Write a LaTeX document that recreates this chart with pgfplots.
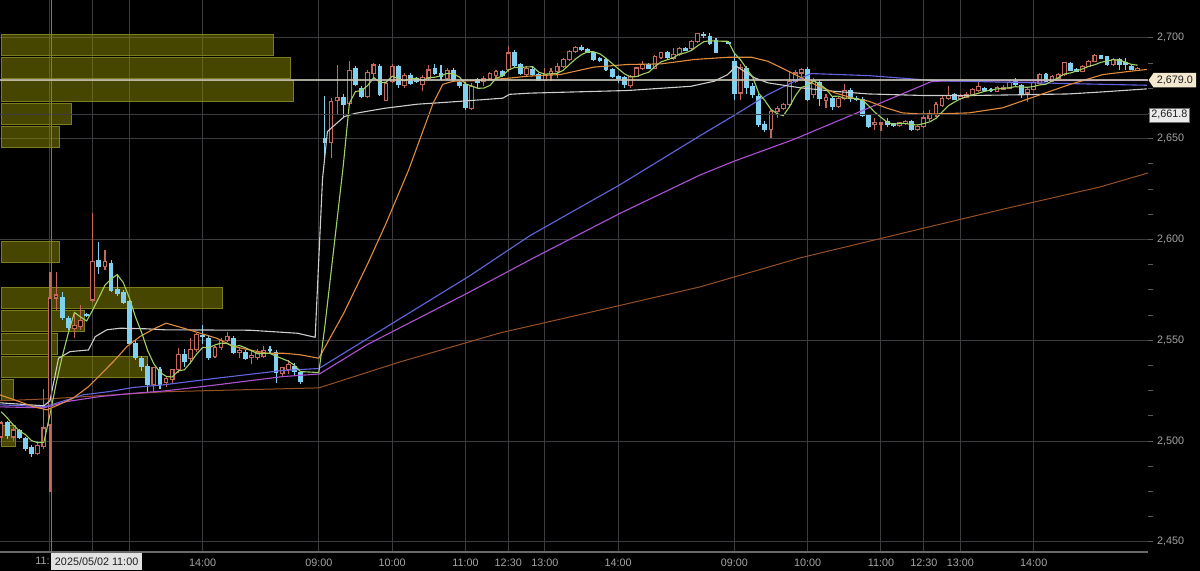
\documentclass[border=0pt]{standalone}
\usepackage{pgfplots}
\pgfplotsset{compat=1.18}
\usepackage{pgfplotstable}
\usepackage{fontspec}
\setmainfont{Liberation Sans}
\usetikzlibrary{shapes.symbols}

\definecolor{upc}{RGB}{196,104,92}
\definecolor{dnc}{RGB}{128,208,240}
\definecolor{ma5}{RGB}{160,210,100}
\definecolor{ma25}{RGB}{225,140,60}
\definecolor{mawh}{RGB}{205,205,205}
\definecolor{mabl}{RGB}{100,100,225}
\definecolor{mamg}{RGB}{175,80,215}
\definecolor{mabr}{RGB}{150,80,35}
\definecolor{gridc}{RGB}{60,60,64}
\definecolor{lbl}{RGB}{165,165,165}
\definecolor{tickc}{RGB}{90,90,90}
\definecolor{axc}{RGB}{105,105,105}
\definecolor{volf}{RGB}{140,140,0}
\definecolor{volb}{RGB}{125,125,30}
\definecolor{crossv}{RGB}{120,120,120}
\definecolor{crossh}{RGB}{200,195,180}
\definecolor{tagbg}{RGB}{245,232,208}
\definecolor{boxbg}{RGB}{235,235,235}
\definecolor{boxbd}{RGB}{110,110,110}
\definecolor{tipbg}{RGB}{226,226,226}
\definecolor{darktxt}{RGB}{30,30,30}

% candles: slot, open, high, low, close (5 min)
\pgfplotstableread{
x o h l c
0 2502 2510 2500 2509
2 2502 2507 2500 2505.5
6 2494 2500 2493 2498
7 2497.5 2526 2496 2506.5
8 2508 2584 2475 2571
9 2571 2584 2565 2572.5
12 2556 2563 2551 2557.5
13 2557 2567.5 2555 2560
15 2570 2613 2569 2589
17 2586.5 2595 2585 2589
25 2528 2537 2524 2536.5
27 2529 2532 2527 2531
28 2530.5 2536 2529 2535.5
29 2535.5 2546 2534 2543
31 2540.8 2551 2539 2545.5
32 2545.5 2553.5 2544 2552.7
35 2542 2547 2541 2546.5
36 2546.5 2551 2545 2550
37 2550 2554 2549 2551.7
39 2544 2546 2541 2545
41 2541.5 2545 2538 2542.5
42 2541.5 2545.5 2540 2544
43 2542 2547 2541 2545
46 2533.7 2537 2532 2536.5
47 2535.5 2540 2533.5 2538
54 2648 2670 2640.5 2668.5
55 2669 2686.5 2662 2670.5
57 2667.5 2688.3 2666 2684
60 2671 2684 2670 2683
61 2682.5 2687.5 2680 2686.5
63 2669 2678.5 2668.5 2677.5
64 2678.5 2687 2677.5 2686
66 2676.5 2682.5 2675 2681.5
69 2676.7 2681.5 2673.5 2680.3
70 2680 2686.6 2679 2684.1
73 2680 2685 2679.2 2684
77 2665 2677.5 2664.3 2675.9
79 2678.3 2681 2676 2680
80 2680 2683 2679 2682.5
81 2681.3 2684 2680 2683.3
83 2684.5 2696 2683 2692.5
86 2682 2686 2681 2685
89 2679 2685 2678.5 2681.8
90 2681.8 2685 2678.5 2683.5
91 2683.5 2687.5 2680 2686
92 2686 2690 2685 2689.3
93 2689.3 2694 2688.5 2693.4
94 2693.4 2696 2692.5 2695.4
103 2676.5 2681.5 2675.2 2681
104 2681 2685.5 2680.5 2685.1
105 2685 2688.4 2684 2686.8
107 2685 2691.7 2685 2690.9
108 2690.4 2693 2689.5 2692.6
110 2690 2695 2689 2691.7
111 2691.7 2695.5 2691 2694.7
113 2694.7 2699 2694 2698.3
114 2698.3 2702.5 2697.5 2702
121 2672.7 2687 2669.4 2685.5
126 2654.5 2664 2650.4 2663.6
127 2663.5 2666 2660.3 2665
128 2665 2667.5 2664 2667
129 2667 2683.5 2666 2678.5
130 2678.5 2684.3 2677.7 2682.6
131 2682.6 2685.1 2680.2 2684.2
133 2672 2680 2670 2679
135 2669 2672 2665 2670.5
137 2666 2671 2665 2670
138 2670 2677 2669 2674
143 2657 2660.3 2654.5 2658.2
144 2657.2 2658.5 2653.7 2657.8
147 2656.7 2658.5 2656 2658
148 2657.5 2659.5 2657 2658.7
150 2654.5 2656.5 2654 2656
151 2656 2663.6 2655.5 2660.3
152 2660 2664 2659 2662.5
153 2662 2668 2661 2667
154 2666.5 2671 2665.5 2670
155 2670 2676 2669 2671.5
157 2670 2672 2669 2671
158 2670.5 2673 2670 2672
159 2672 2675 2671.5 2674.5
160 2674 2679 2673 2676
163 2673.5 2676 2673 2675.2
164 2674.5 2676.5 2674 2675.5
165 2675 2679 2674.5 2677.7
168 2672.7 2675 2668 2674.5
169 2674.5 2678.5 2674 2677.7
170 2677.5 2682.5 2677 2681.8
172 2678.5 2681.5 2678 2681
173 2680 2682.5 2679.5 2681.8
174 2681.8 2688 2681 2687.6
177 2683.5 2686.5 2683 2686
178 2686 2689 2685.5 2688.4
179 2688.4 2692 2688 2691.4
182 2686.8 2690 2686 2689.3
186 2684.3 2685.5 2684 2685
}\upcandles

\pgfplotstableread{
x o h l c
1 2509 2510 2501 2503
3 2505 2506 2501 2502
4 2501 2502 2495 2496.5
5 2497 2498 2492 2494
10 2571 2574 2560 2561.5
11 2561 2562 2555 2556.5
14 2562.8 2563.5 2561.5 2562.3
16 2589.5 2599 2583 2586.5
18 2588 2590 2574 2575
19 2575 2583 2572 2573.5
20 2573.5 2575 2568 2569
21 2569 2570 2548 2548.7
22 2548.5 2550 2540 2541.5
23 2541 2542 2535 2537
24 2537 2538 2524 2528
26 2535.5 2537 2526 2528
30 2543 2545.5 2537 2539.5
33 2552.5 2557.6 2548 2552
34 2551 2552.5 2540 2541.7
38 2551 2552 2543 2544
40 2544 2545 2540 2541
44 2545.5 2547 2543 2545
45 2544 2545 2529 2534
48 2537 2538.5 2533 2534.5
49 2534 2535 2528.5 2529.5
53 2650 2671 2640 2648
56 2670.5 2672 2661 2667
58 2685 2686 2676 2677
59 2675 2676 2670 2671
62 2686 2687 2671 2672
65 2685.8 2686.5 2675 2676.7
67 2681.3 2682.5 2676.7 2677.5
68 2679.7 2680.5 2677.5 2678.3
71 2685 2687 2681.5 2682.5
72 2682.5 2686.6 2679 2681
74 2684 2685 2678.3 2679.2
75 2678 2678.7 2675 2676.4
76 2677 2678 2664.3 2665.4
78 2679.2 2680 2675 2678
82 2683.3 2684 2680.5 2681.6
84 2692.5 2694 2685 2686.5
85 2686.5 2687.5 2681.5 2682.5
87 2684.5 2685.5 2681 2681.8
88 2681.8 2682.5 2678.5 2679
95 2695 2696.6 2693.4 2694.2
96 2694.2 2695 2692.5 2693
97 2692.6 2693.5 2688.5 2689.3
98 2689.8 2690.5 2688 2688.8
99 2689.3 2690 2683.5 2684.3
100 2684.3 2685 2680 2681
101 2681 2681.8 2677.7 2680.1
102 2680.5 2681.3 2675.2 2676.8
106 2686.8 2687.5 2684.5 2685.1
109 2692.6 2693.5 2689.5 2690.1
112 2694.7 2695.5 2693.5 2694
115 2701.8 2703 2700 2701.3
116 2700.8 2702.5 2696.7 2697.5
117 2698.7 2700 2692.5 2693
119 2697.6 2697.8 2697.3 2697.5
120 2688.4 2692.6 2669.4 2672.7
122 2685 2686 2672 2675.5
123 2676 2677.7 2670.2 2672
124 2671 2672 2656 2657
125 2657 2658.7 2653.4 2654.5
132 2684.3 2685.5 2668.5 2669.4
134 2678 2679 2666 2670
136 2670 2671 2664 2666
139 2674 2675 2668 2670.2
140 2670 2671 2668.5 2669.4
141 2669.4 2670.5 2661 2661.6
142 2661.6 2662 2655.4 2656.2
145 2658.5 2660.3 2655.8 2657
146 2657.5 2658 2656 2656.7
149 2658.7 2659.5 2654 2654.5
156 2671.9 2672.5 2669 2669.5
161 2675 2675.5 2673.5 2674.2
162 2674.5 2675 2673 2673.8
166 2678.5 2680 2676 2676.9
167 2676.5 2677 2670 2672.7
171 2681.8 2682.5 2678 2678.5
175 2687 2688 2683.5 2684
176 2684.3 2685 2683 2683.5
180 2691 2691.5 2689.5 2690
181 2690.5 2691 2686 2686.8
183 2689.3 2690 2684.3 2686.8
184 2687.5 2690 2684 2687
185 2686 2686.5 2684 2684.3
}\dncandles

\begin{document}
\begin{tikzpicture}
\fill[black] (0,0) rectangle (600pt,285.5pt);
\begin{axis}[
  at={(0pt,9.5pt)}, anchor=south west,
  scale only axis, width=574pt, height=276pt,
  xmin=-0.18, xmax=187.7, ymin=2445, ymax=2718.8,
  enlargelimits=false, clip mode=individual,
  axis x line=bottom, axis y line=right,
  x axis line style={-, draw=axc, line width=0.6pt},
  y axis line style={draw=none},
  xtick={8,15,21,33,52,64,76,83,89,101,120,132,144,151,157,169},
  xticklabels={,,,14:00,09:00,10:00,11:00,12:30,13:00,14:00,09:00,10:00,11:00,12:30,13:00,14:00},
  ytick={2450,2500,...,2700},
  minor ytick={2462.5,2475,2487.5,2512.5,2525,2537.5,2562.5,2575,2587.5,2612.5,2625,2637.5,2662.5,2675,2687.5},
  xmajorgrids, ymajorgrids,
  grid style={gridc, line width=0.5pt},
  tick align=outside,
  major tick length=2.5pt, minor tick length=2.5pt,
  xtick style={draw=none},
  ytick style={draw=tickc, line width=0.5pt},
  tick label style={font=\fontsize{5.4}{6}\selectfont, text=lbl},
  yticklabel style={anchor=west, xshift=-1.5pt},
  xticklabel style={yshift=2.6pt},
  /pgf/number format/.cd, 1000 sep={,}, assume math mode=true,
]

% volume profile
\addplot[xbar, bar width=10.4, fill=volf, fill opacity=0.5, draw=volb, line width=0.5pt, forget plot]
  coordinates {(2.3,2502.5) (1.95,2525.3) (24.0,2536.7) (9.15,2548.1) (13.6,2559.5) (36.3,2570.9)
               (9.5,2593.7) (9.6,2650.7) (11.6,2662.1) (47.8,2673.5) (47.4,2684.9) (44.5,2696.3)};

% rising candles: wick, outline, hollow inside
\addplot[draw=none, mark=none, forget plot, error bars/.cd, y dir=plus, y explicit, error mark=none,
  error bar style={draw=upc, line width=0.55pt}]
  table[x=x, y=l, y error expr=\thisrow{h}-\thisrow{l}] {\upcandles};
\addplot[draw=none, mark=none, forget plot, error bars/.cd, y dir=plus, y explicit, error mark=none,
  error bar style={draw=upc, line width=2.4pt}]
  table[x=x, y expr=\thisrow{o}-0.3, y error expr=\thisrow{c}-\thisrow{o}+0.6] {\upcandles};
\addplot[draw=none, mark=none, forget plot, error bars/.cd, y dir=plus, y explicit, error mark=none,
  error bar style={draw=black, line width=1.3pt}]
  table[x=x, y expr=\thisrow{o}+0.3, y error expr={max(\thisrow{c}-\thisrow{o}-0.6,0)}] {\upcandles};

% falling candles
\addplot[draw=none, mark=none, forget plot, error bars/.cd, y dir=plus, y explicit, error mark=none,
  error bar style={draw=dnc, line width=0.55pt}]
  table[x=x, y=l, y error expr=\thisrow{h}-\thisrow{l}] {\dncandles};
\addplot[draw=none, mark=none, forget plot, error bars/.cd, y dir=plus, y explicit, error mark=none,
  error bar style={draw=dnc, line width=2.4pt}]
  table[x=x, y expr=\thisrow{c}-0.3, y error expr=\thisrow{o}-\thisrow{c}+0.6] {\dncandles};

% long averages
\addplot[mabr, line width=0.5pt] coordinates {(-0.2,2520) (8,2521) (16,2522.5) (27,2524.5) (40,2525.5) (52,2526.4)
  (65.3,2539.3) (81.7,2553.7) (98,2565) (114.4,2576.5) (130.8,2590.9) (147.1,2602.8) (163.5,2614.7) (179.9,2626.1) (187.7,2633)};
\addplot[mamg, line width=0.55pt] coordinates {(-0.2,2517) (7,2516.5) (10.7,2519.6) (16.2,2522.1) (21.6,2523.7) (26.8,2524.9)
  (35.3,2527.9) (46.1,2532) (52.1,2533.3) (60,2548) (76.7,2574) (86.6,2590) (101.3,2613) (114.4,2632) (120.1,2639)
  (129.7,2649.6) (152.4,2678.5) (187.5,2679)};
\addplot[mabl, line width=0.55pt] coordinates {(-0.2,2518) (3,2517.6) (7,2517) (8.5,2518.3) (13.5,2523) (17.8,2524.6)
  (21.6,2526.6) (26.8,2528) (35.3,2531.2) (46,2535) (52,2536) (76.7,2582) (86.6,2602) (101.3,2627.2) (114.4,2651.5)
  (120.1,2661.8) (125.5,2671.9) (131,2680.2) (132.6,2682.3) (141.9,2681.3) (152.8,2678.8) (187.5,2676.5)};
\addplot[mawh, line width=0.55pt] coordinates {(-0.2,2519) (7,2517.5) (8,2520) (9.4,2541.1) (11.3,2544.4) (14.3,2545.2)
  (15.4,2551.8) (17.3,2555.2) (19.5,2556) (23.8,2555.7) (26.8,2555.2) (40.7,2555) (48.5,2553.5) (51.4,2551.5)
  (52.6,2630) (53.4,2653.5) (54.3,2656) (56.2,2661) (58,2662.6) (62.8,2665.1) (68.1,2667.1) (74.5,2668.4)
  (82.1,2670.1) (83.2,2672) (86.6,2672.6) (102.5,2673.9) (112.9,2676) (116.7,2678.5) (118.9,2681.8) (120.3,2686)
  (123.3,2680.2) (125.5,2677.7) (130.9,2675.2) (136.4,2673.5) (141.9,2672.2) (151.2,2671.4) (158.3,2671.4)
  (169.2,2671.9) (174.7,2672.2) (180.2,2673.2) (187.5,2674.7)};
\addplot[ma25, line width=0.55pt] coordinates {(-0.2,2522.9) (3,2519.6) (5.3,2517.1) (7.5,2515.5) (9.4,2518) (11.8,2521.3)
  (14.3,2527) (16.2,2532.8) (18.4,2539.5) (20.6,2546.9) (22.7,2551.8) (24.9,2555.5) (27,2558.5) (29.9,2556)
  (32.6,2553.5) (35.3,2551) (38.1,2546.9) (40.7,2545.2) (43.5,2543.6) (46.2,2543.6) (49,2542.8) (52,2541.1)
  (56,2563) (60,2588) (63,2608) (66.7,2634.5) (70.7,2667.6) (72.3,2677) (74,2678.5) (78,2678.8) (83,2680)
  (86.2,2681) (91.5,2681.8) (97,2685.5) (102.5,2686.8) (108,2687.1) (113.5,2689.3) (119,2690.4) (122.8,2690.4)
  (125.5,2688.4) (128.3,2684.3) (131,2680.2) (133.8,2676) (136.5,2672.7) (139.3,2670.2) (142,2668.6) (144.8,2665.3)
  (147.5,2662.8) (150.2,2662.3) (153,2662.3) (158.4,2662.8) (163.9,2665.3) (169.4,2671.1) (174.9,2676.9)
  (180.3,2681.8) (185.8,2683.8) (187.5,2684.3)};
% 5-bar average
\addplot[ma5, line width=0.55pt] coordinates {(0,2514.6)(1,2511.5)(2,2508)(3,2505)(4,2503.2)(5,2500.2)(6,2499.2)(7,2499.4)
  (8,2513.2)(9,2528.4)(10,2541.9)(11,2553.6)(12,2563.8)(13,2561.6)(14,2559.6)(15,2565.1)(16,2571.1)(17,2577.4)
  (18,2580.4)(19,2582.6)(20,2578.6)(21,2571)(22,2561.5)(23,2553.9)(24,2544.8)(25,2538.3)(26,2534.2)(27,2532.1)
  (28,2531.8)(29,2534.8)(30,2535.4)(31,2538.9)(32,2543.2)(33,2546.5)(34,2546.3)(35,2547.7)(36,2548.6)(37,2548.4)
  (38,2546.8)(39,2547.4)(40,2546.3)(41,2544.8)(42,2543.3)(43,2543.5)(44,2543.5)(45,2542.1)(46,2540.9)(47,2539.7)
  (48,2537.6)(49,2534.5)(52,2534)(53,2557.3)(54,2583.7)(55,2610.2)(56,2636.7)(57,2667.6)(58,2673.4)(59,2673.9)
  (60,2676.4)(61,2680.3)(62,2677.9)(63,2678)(64,2681)(65,2679.7)(66,2678.7)(67,2679.8)(68,2680)(69,2678.9)
  (70,2680.3)(71,2680.5)(72,2681.2)(73,2682.4)(74,2682.2)(75,2680.6)(76,2677.2)(77,2676.2)(78,2675)(79,2675.1)
  (80,2676.4)(81,2679.9)(82,2681.1)(83,2684)(84,2685.3)(85,2685.3)(86,2685.6)(87,2685.7)(88,2683)(89,2682)
  (90,2682.2)(91,2682.4)(92,2683.9)(93,2686.8)(94,2689.5)(95,2691.7)(96,2693.1)(97,2693.1)(98,2692.1)(99,2689.9)
  (100,2687.3)(101,2684.7)(102,2682.2)(103,2680.6)(104,2680.8)(105,2682)(106,2683)(107,2685.8)(108,2688.1)
  (109,2689.1)(110,2690.1)(111,2692)(112,2692.6)(113,2693.8)(114,2696.1)(115,2698.1)(116,2698.6)(117,2698.4)
  (119,2698.3)(120,2692.4)(121,2689.2)(122,2684.8)(123,2680.6)(124,2672.5)(125,2668.9)(126,2664.5)(127,2662.4)
  (128,2661.4)(129,2665.7)(130,2671.3)(131,2675.5)(132,2676.3)(133,2678.7)(134,2677)(135,2674.6)(136,2671)
  (137,2671.1)(138,2670.1)(139,2670.1)(140,2669.9)(141,2669)(142,2666.3)(143,2663.1)(144,2660.6)(145,2658.2)
  (146,2657.2)(147,2657.5)(148,2657.6)(149,2657)(150,2656.8)(151,2657.5)(152,2658.4)(153,2660.1)(154,2663.2)
  (155,2666.3)(156,2668.1)(157,2669.8)(158,2670.8)(159,2671.7)(160,2672.6)(161,2673.5)(162,2674.1)(163,2674.7)
  (164,2674.9)(165,2675.3)(166,2675.8)(167,2675.6)(168,2675.5)(169,2675.9)(170,2676.7)(171,2677)(172,2678.7)
  (173,2680.2)(174,2682.1)(175,2682.6)(176,2683.6)(177,2684.6)(178,2685.9)(179,2686.7)(180,2687.9)(181,2688.5)
  (182,2689.2)(183,2688.9)(184,2688)(185,2686.8)(186,2686.5)};

% price line and crosshair
\draw[gridc, line width=0.5pt] (axis cs:-0.18,2661.8) -- (axis cs:187.7,2661.8);
\draw[crossv, line width=0.5pt] (axis cs:8.3,2445) -- (axis cs:8.3,2718.8);
\draw[crossh, line width=0.8pt, opacity=0.85] (axis cs:-0.18,2679) -- (axis cs:187.7,2679);
\coordinate (pxa) at (axis cs:187.7,2679);
\coordinate (pxb) at (axis cs:187.7,2661.8);
\coordinate (tip) at (axis cs:8.1,2445);
\end{axis}

\node[signal, signal to=west, signal pointer angle=110, fill=tagbg,
  text=darktxt, font=\fontsize{5.4}{6}\selectfont,
  inner xsep=1.6pt, inner ysep=1.4pt, anchor=west] at (pxa) {2,679.0};
\node[fill=boxbg, draw=boxbd, line width=0.3pt,
  text=darktxt, font=\fontsize{5.4}{6}\selectfont,
  inner xsep=1.2pt, inner ysep=1.3pt, anchor=west] at ([xshift=0.3pt]pxb) {2,661.8};
\node[text=lbl, font=\fontsize{5.4}{6}\selectfont, inner sep=0pt, anchor=east]
  at ([xshift=-0.3pt,yshift=-4.6pt]tip) {11:};
\node[fill=tipbg, text=darktxt,
  font=\fontsize{5.4}{6}\selectfont, inner xsep=2pt, inner ysep=2.2pt, anchor=north west]
  at ([yshift=-0.4pt]tip) {2025/05/02 11:00};

\pgfresetboundingbox
\path[use as bounding box] (0,0) rectangle (600pt,285.5pt);
\end{tikzpicture}
\end{document}
